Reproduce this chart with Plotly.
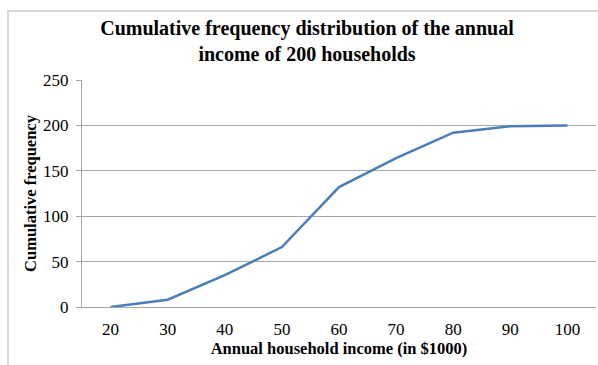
import plotly.graph_objects as go

income = ["20", "30", "40", "50", "60", "70", "80", "90", "100"]
cum_freq = [0, 8, 35, 66, 132, 164, 192, 199, 200]
y_ticks = [0, 50, 100, 150, 200, 250]

W, H = 598, 365
L, R, T, B = 82, 2, 80, 58
pw = W - L - R
ph = H - T - B

def px_x(x):
    return (x - L) / pw

def px_y(y):
    return (H - B - y) / ph

serif = "Liberation Serif, Times New Roman, serif"

fig = go.Figure()
fig.add_trace(go.Scatter(
    x=income, y=cum_freq, mode="lines",
    line=dict(color="#4a7ebb", width=2.5),
    hoverinfo="skip", showlegend=False,
))

fig.update_layout(
    width=W, height=H,
    margin=dict(l=L, r=R, t=T, b=B),
    paper_bgcolor="white", plot_bgcolor="white",
    title=dict(
        text="Cumulative frequency distribution of the annual<br>income of 200 households",
        font=dict(family=serif, size=20, color="black", weight="bold"),
        x=307 / W, xanchor="center",
        y=1 - 35 / H, yanchor="top", yref="container",
    ),
    xaxis=dict(
        type="category", range=[-0.5, 8.5],
        showgrid=False, zeroline=False,
        showline=True, linecolor="#a6a6a6", linewidth=1,
        ticks="", tickfont=dict(family=serif, size=17, color="black"),
        ticklabelstandoff=7,
        title=dict(text="Annual household income (in $1000)",
                   font=dict(family=serif, size=16.5, color="black", weight="bold"),
                   standoff=4),
    ),
    yaxis=dict(
        range=[0, 250], tickvals=y_ticks,
        showgrid=True, gridcolor="#a6a6a6", gridwidth=1,
        zeroline=False,
        showline=True, linecolor="#a6a6a6", linewidth=1,
        ticks="outside", ticklen=5, tickcolor="#a6a6a6",
        tickfont=dict(family=serif, size=17, color="black"),
        ticklabelstandoff=4,
        title=dict(text="Cumulative frequency",
                   font=dict(family=serif, size=16.5, color="black", weight="bold"),
                   standoff=2),
    ),
    shapes=[dict(
        type="rect", xref="paper", yref="paper",
        x0=px_x(8), x1=px_x(605), y0=px_y(372), y1=px_y(11),
        line=dict(color="#d9d9d9", width=2), fillcolor="rgba(0,0,0,0)",
        layer="below",
    )],
)

fig.write_html("out.html")
